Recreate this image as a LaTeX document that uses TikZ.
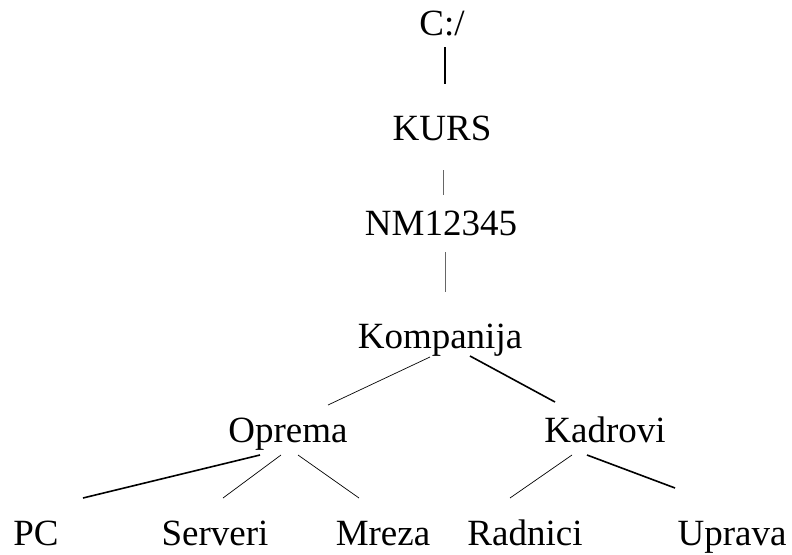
\documentclass[tikz,border=0pt]{standalone}
\usepackage{fontspec}
\setmainfont{Liberation Serif}
\begin{document}
\begin{tikzpicture}[x=1pt,y=-1pt,
  lbl/.style={anchor=base,inner sep=0pt,font=\fontsize{37}{40}\selectfont},
  thin/.style={line width=0.7pt},
  thickline/.style={line width=1.6pt}]
\useasboundingbox (0,0) rectangle (792,554);
\node[lbl] (c) at (442,35) {C:/};
\node[lbl] (kurs) at (442,140) {KURS};
\node[lbl] (nm) at (441,235) {NM12345};
\node[lbl] (komp) at (440,348) {Kompanija};
\node[lbl] (opr) at (288,442) {Oprema};
\node[lbl] (kad) at (605,442) {Kadrovi};
\node[lbl] (pc) at (36,545) {PC};
\node[lbl] (serv) at (215,545) {Serveri};
\node[lbl] (mreza) at (383,545) {Mreza};
\node[lbl] (rad) at (525,545) {Radnici};
\node[lbl] (upr) at (732,545) {Uprava};
\draw[thickline] ([shift={(3,12)}]c.base) -- ([shift={(3,-56)}]kurs.base);
\draw[thin,black!60] ([shift={(1,30)}]kurs.base) -- ([shift={(2,-40)}]nm.base);
\draw[thin,black!60] ([shift={(4,17)}]nm.base) -- ([shift={(5,-56)}]komp.base);
\draw[thin] ([shift={(-10,9)}]komp.base) -- ([shift={(40,-37)}]opr.base);
\draw[thickline] ([shift={(30,8)}]komp.base) -- ([shift={(-50,-40)}]kad.base);
\draw[thickline] ([shift={(-28,13)}]opr.base) -- ([shift={(47,-47)}]pc.base);
\draw[thin] ([shift={(-7,13)}]opr.base) -- ([shift={(8,-47)}]serv.base);
\draw[thin] ([shift={(10,13)}]opr.base) -- ([shift={(-24,-47)}]mreza.base);
\draw[thin] ([shift={(-33,13)}]kad.base) -- ([shift={(-15,-47)}]rad.base);
\draw[thickline] ([shift={(-18,13)}]kad.base) -- ([shift={(-57,-57)}]upr.base);
\end{tikzpicture}
\end{document}
